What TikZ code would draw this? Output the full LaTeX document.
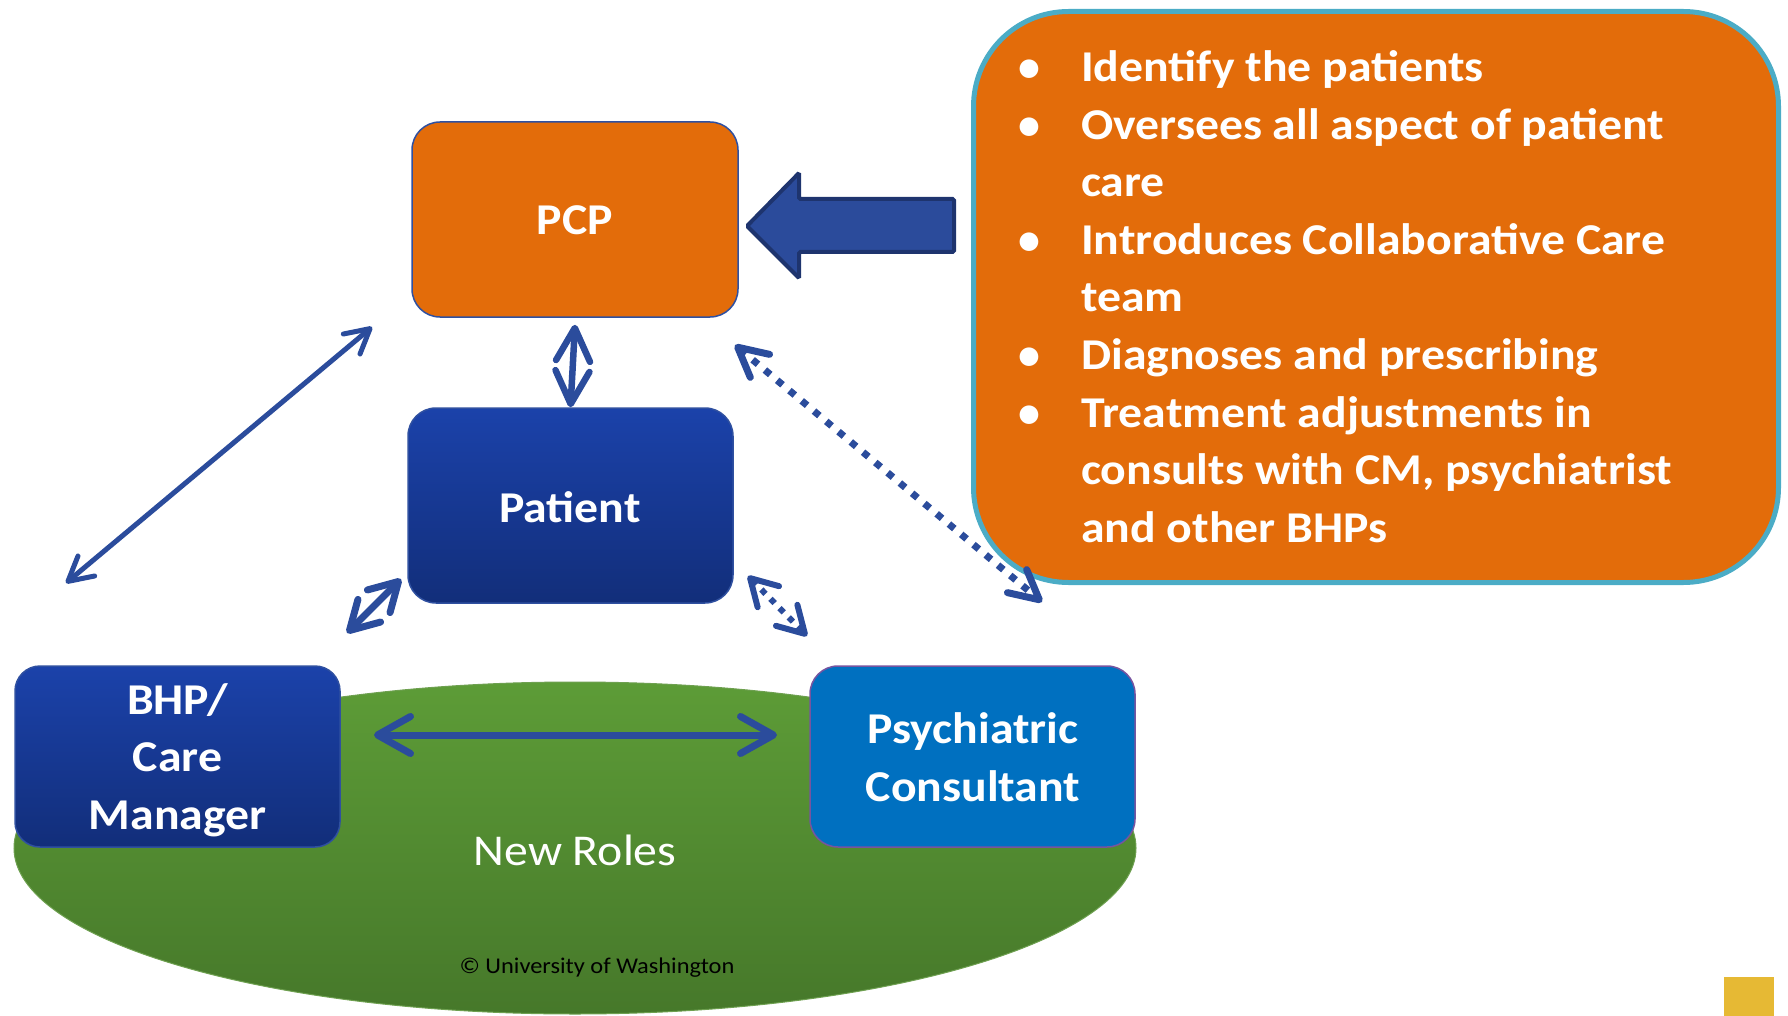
\documentclass[tikz,border=0pt]{standalone}
\usepackage{fontspec}
\usepackage{graphicx}
\setmainfont{Carlito}
\usetikzlibrary{arrows.meta,calc,shapes.geometric}

\definecolor{pcporange}{RGB}{227,108,10}
\definecolor{calloutline}{RGB}{75,172,198}
\definecolor{linkblue}{RGB}{43,76,156}
\definecolor{arrowfill}{RGB}{43,75,155}
\definecolor{arrowline}{RGB}{30,52,110}
\definecolor{navytop}{RGB}{27,66,170}
\definecolor{navybot}{RGB}{18,46,122}
\definecolor{navyline}{RGB}{47,80,160}
\definecolor{psychblue}{RGB}{0,112,192}
\definecolor{psychline}{RGB}{118,84,160}
\definecolor{greentop}{RGB}{93,156,55}
\definecolor{greenbot}{RGB}{70,120,42}
\definecolor{greenline}{RGB}{110,160,80}
\definecolor{badge}{RGB}{230,185,52}

\newcommand\lblfont{\fontsize{44}{57.5}\selectfont}
\newcommand\notefont{\fontsize{22.5}{28}\selectfont}
% slide lettering is set slightly wide
\newcommand\wide[1]{\scalebox{1.085}[1]{#1}}

\tikzset{
  rolebox/.style={rectangle, rounded corners=28pt, inner sep=0pt, line width=1.5pt},
  lbl/.style={text=white, font=\lblfont\bfseries, anchor=base, inner sep=0pt},
  itemtext/.style={text=white, font=\lblfont\bfseries, anchor=base west, inner sep=0pt},
  link/.style={draw=linkblue, line width=#1, line cap=round},
  link/.default=6pt,
  dotlink/.style={draw=linkblue, line width=#1, line cap=butt, dash pattern=on 7pt off 9pt},
  dotlink/.default=7pt,
  tips/.style n args={2}{{Straight Barb[length=#1,width=#2,round]}-{Straight Barb[length=#1,width=#2,round]}}
}

\begin{document}
\begin{tikzpicture}[x=1pt,y=-1pt]
\useasboundingbox (0,0) rectangle (1788,1016);

% green ground of the new roles
\node[ellipse, minimum width=1122pt, minimum height=332pt, inner sep=0pt,
      top color=greentop, bottom color=greenbot, draw=greenline, line width=1pt] (roles) at (575,848) {};
\node[text=white, font=\lblfont, anchor=base, inner sep=0pt] (rolestext) at (575,865) {\wide{New Roles}};
\node[text=black, font=\notefont, anchor=base, inner sep=0pt] (copyright) at (597,973) {\wide{© University of Washington}};

% role boxes
\node[rolebox, fill=pcporange, draw=navyline, minimum width=326pt, minimum height=195pt] (pcp) at (575,219.5) {};
\node[lbl] (pcptext) at (575,235) {\wide{PCP}};

\node[rolebox, top color=navytop, bottom color=navybot, draw=navyline, minimum width=325pt, minimum height=195pt] (patient) at (570.5,505.5) {};
\node[lbl] (patienttext) at (570,522) {\wide{Patient}};

\node[rolebox, rounded corners=25pt, top color=navytop, bottom color=navybot, draw=navyline, minimum width=325pt, minimum height=181pt] (bhp) at (177.5,756.5) {};
\node[lbl] (bhp1) at (177.5,714) {\wide{BHP/}};
\node[lbl] (bhp2) at (177.5,771.5) {\wide{Care}};
\node[lbl] (bhp3) at (177.5,829) {\wide{Manager}};

\node[rolebox, fill=psychblue, draw=psychline, minimum width=325pt, minimum height=181pt] (psych) at (972.5,756.5) {};
\node[lbl] (psych1) at (973,743) {\wide{Psychiatric}};
\node[lbl] (psych2) at (973,801) {\wide{Consultant}};

% PCP duties callout
\node[rectangle, rounded corners=95pt, fill=pcporange, draw=calloutline, line width=5pt,
      minimum width=805pt, minimum height=571pt, inner sep=0pt] (duties) at (1376,297) {};
\foreach \name/\y in {d1/82, d2/139.5, d3/254.5, d4/369.5, d5/427}
  \node[lbl] (\name) at (1029,\y) {•};
\node[itemtext] (t1) at (1081,82) {\wide{Identify the patients}};
\node[itemtext] (t2) at (1081,139.5) {\wide{\begin{tabular}[t]{@{}l@{}}Oversees all aspect of patient\\care\end{tabular}}};
\node[itemtext] (t3) at (1081,254.5) {\wide{\begin{tabular}[t]{@{}l@{}}Introduces Collaborative Care\\team\end{tabular}}};
\node[itemtext] (t4) at (1081,369.5) {\wide{Diagnoses and prescribing}};
\node[itemtext] (t5) at (1081,427) {\wide{\begin{tabular}[t]{@{}l@{}}Treatment adjustments in\\consults with CM, psychiatrist\\and other BHPs\end{tabular}}};

% block arrow pointing from the callout to the PCP
\draw[fill=arrowfill, draw=arrowline, line width=4pt, rounded corners=1.5pt]
  (747,226) -- (799,173) -- (799,199) -- (954,199) -- (954,252) -- (799,252) -- (799,278) -- cycle;

% connector end points
\coordinate (cmA) at (66,583);
\coordinate (pcpA) at (372,327);
\coordinate (cmB) at (347,633);
\coordinate (ptB) at (401,579);
\coordinate (ptC) at (748,576);
\coordinate (psC) at (807,636);
\coordinate (pcpD) at (735,345);
\coordinate (psD) at (1042,602);
\coordinate (cmE) at (374,735);
\coordinate (psE) at (777,735);

% connectors
\draw[link=6.5pt, tips={33pt}{34pt}] ([yshift=-7pt]pcp.south) -- (patient.north);
\draw[link=5pt, tips={24pt}{26pt}] (cmA) -- (pcpA);
\draw[link=7pt, tips={28pt}{32pt}] (cmB) -- (ptB);
\draw[link=7pt, tips={33pt}{37pt}] (cmE) -- (psE);
\draw[dotlink, tips={29pt}{30pt}] (pcpD) -- (psD);
\draw[dotlink=6pt, dash pattern=on 6pt off 7pt, tips={26pt}{30pt}] (ptC) -- (psC);

% corner badge
\fill[badge] (1724,977) rectangle (1774,1016);
\end{tikzpicture}
\end{document}
